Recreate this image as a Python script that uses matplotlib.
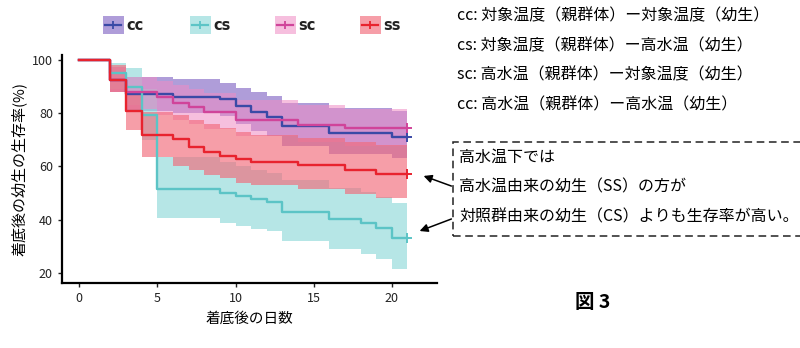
import matplotlib
matplotlib.use("Agg")
import matplotlib.pyplot as plt
from matplotlib.patches import Rectangle
from matplotlib.lines import Line2D

plt.rcParams['font.family'] = ['Noto Sans CJK JP', 'DejaVu Sans']

# --- data (days, survival %, CI lower, CI upper) ---
cc_t = [0, 2, 3, 6, 9, 10, 11, 12, 13, 16, 20, 21]
cc_s = [100, 92.5, 87.3, 86.2, 85.3, 82.8, 80.6, 78.7, 75.2, 72.4, 71.2, 71.2]
cc_lo = [100, 88, 81, 80, 79, 76, 73.5, 71.5, 67.5, 64.5, 63, 63]
cc_hi = [100, 97.5, 93.5, 92.7, 91.5, 89.5, 88, 86.5, 84, 82, 81, 81]

cs_t = [0, 2, 3, 4, 5, 9, 10, 11, 12, 13, 16, 18, 19, 20, 21]
cs_s = [100, 95, 90, 79.3, 51.5, 49.9, 48.9, 47.6, 46.5, 43, 40.2, 38.6, 36.7, 33, 33]
cs_lo = [100, 89, 83, 70, 40.6, 38.8, 37.5, 36.5, 35.6, 32, 28.8, 27, 25.2, 21.3, 21.3]
cs_hi = [100, 99, 97, 89, 63.5, 61.5, 60, 58.5, 57.5, 55, 52, 50.5, 48.5, 46.4, 46.4]

sc_t = [0, 2, 3, 5, 6, 7, 8, 10, 14, 17, 21]
sc_s = [100, 92.5, 87.8, 86.2, 84, 82.3, 80.3, 77.5, 75.5, 74.3, 74.3]
sc_lo = [100, 88, 81.5, 79.5, 77.5, 76, 74, 71.5, 69, 67.5, 67.5]
sc_hi = [100, 97.5, 93.5, 92, 90.5, 89, 87.5, 85, 83, 81.5, 81.5]

ss_t = [0, 2, 3, 4, 6, 7, 8, 9, 10, 11, 14, 17, 19, 21]
ss_s = [100, 92.5, 80.8, 71.7, 70.2, 67.4, 65.5, 64, 62.7, 61.5, 60.4, 58.6, 57.3, 57.3]
ss_lo = [100, 88, 73.7, 63.7, 60, 58.6, 56.8, 55.5, 53.6, 52.9, 51.5, 49.5, 48, 48]
ss_hi = [100, 98, 88, 80.6, 79.5, 77.5, 76, 74.5, 73, 72, 70.5, 69, 68, 68]

groups = ["cc", "cs", "sc", "ss"]
line_cols = ["#3a4aa6", "#5cc4c6", "#d0449a", "#e8232e"]
fill_cols = ["#7a5cc0", "#8fd9d9", "#f08cc4", "#f26a7a"]
fill_alpha = [0.6, 0.65, 0.55, 0.65]

series = [(cc_t, cc_s, cc_lo, cc_hi), (cs_t, cs_s, cs_lo, cs_hi),
          (sc_t, sc_s, sc_lo, sc_hi), (ss_t, ss_s, ss_lo, ss_hi)]

fig = plt.figure(figsize=(8, 3.48), dpi=100)
ax = fig.add_axes([0.0775, 0.187, 0.469, 0.655])

for (t, s, lo, hi), lc, fc, fa in zip(series, line_cols, fill_cols, fill_alpha):
    ax.fill_between(t, lo, hi, step='post', color=fc, alpha=fa, linewidth=0)
for (t, s, lo, hi), lc in zip(series, line_cols):
    ax.step(t, s, where='post', color=lc, linewidth=1.7)
    ax.plot(t[-1], s[-1], marker='+', color=lc, markersize=7, mew=1.4)

ax.set_xlim(-1.1, 22.9)
ax.set_ylim(16.2, 101.9)
ax.set_xticks([0, 5, 10, 15, 20])
ax.set_yticks([20, 40, 60, 80, 100])
ax.spines['top'].set_visible(False)
ax.spines['right'].set_visible(False)
ax.spines['left'].set_linewidth(1.6)
ax.spines['bottom'].set_linewidth(1.6)
ax.tick_params(labelsize=9, length=3, width=1, colors='#222222')
ax.set_xlabel("着底後の日数", fontsize=10.5, labelpad=5)
ax.set_ylabel("着底後の幼生の生存率(%)", fontsize=10.8, labelpad=4)

# legend across the top
leg_x = [103 / 800, 190 / 800, 275 / 800, 360 / 800]
for g, lc, fc, fa, lx in zip(groups, line_cols, fill_cols, fill_alpha, leg_x):
    fig.patches.append(Rectangle((lx, 1 - 34 / 348), 21 / 800, 18 / 348, transform=fig.transFigure,
                                 facecolor=fc, alpha=fa, edgecolor='none'))
    fig.lines.append(Line2D([lx + 0.003, lx + 0.023], [1 - 25 / 348] * 2, transform=fig.transFigure,
                            color=lc, linewidth=1.6))
    fig.lines.append(Line2D([lx + 0.013], [1 - 25 / 348], transform=fig.transFigure, color=lc,
                            marker='+', markersize=6, mew=1.3))
    fig.text(lx + 0.029, 1 - 25 / 348, g, fontsize=10.5, fontweight='bold', va='center', ha='left',
             family=['DejaVu Sans'], color='#222222')

# group descriptions
desc = ["cc: 対象温度（親群体）ー対象温度（幼生）",
        "cs: 対象温度（親群体）ー高水温（幼生）",
        "sc: 高水温（親群体）ー対象温度（幼生）",
        "cc: 高水温（親群体）ー高水温（幼生）"]
for i, d in enumerate(desc):
    fig.text(457 / 800, 1 - (16 + 29.5 * i) / 348, d, fontsize=11.5, va='center', ha='left')

# dashed note box
box = Rectangle((453 / 800, 1 - 236 / 348), 0.45, 94 / 348, transform=fig.transFigure,
                fill=False, linestyle=(0, (5, 3)), linewidth=1.1, edgecolor='#222222')
fig.patches.append(box)
note = ["高水温下では", "高水温由来の幼生（SS）の方が", "対照群由来の幼生（CS）よりも生存率が高い。"]
for i, n in enumerate(note):
    fig.text(459 / 800, 1 - (157 + 30 * i) / 348, n, fontsize=11.5, va='center', ha='left')

# arrows from box to curve ends
ax.annotate("", xy=(421 / 800, 1 - 175 / 348), xycoords='figure fraction',
            xytext=(454 / 800, 1 - 187 / 348), textcoords='figure fraction',
            arrowprops=dict(arrowstyle='-|>', color='black', lw=1.1, mutation_scale=12))
ax.annotate("", xy=(417 / 800, 1 - 232 / 348), xycoords='figure fraction',
            xytext=(454 / 800, 1 - 218 / 348), textcoords='figure fraction',
            arrowprops=dict(arrowstyle='-|>', color='black', lw=1.1, mutation_scale=12))

fig.text(593 / 800, 1 - 303 / 348, "図 3", fontsize=14, fontweight='bold', ha='center', va='center')

fig.savefig("out.png", dpi=100)
